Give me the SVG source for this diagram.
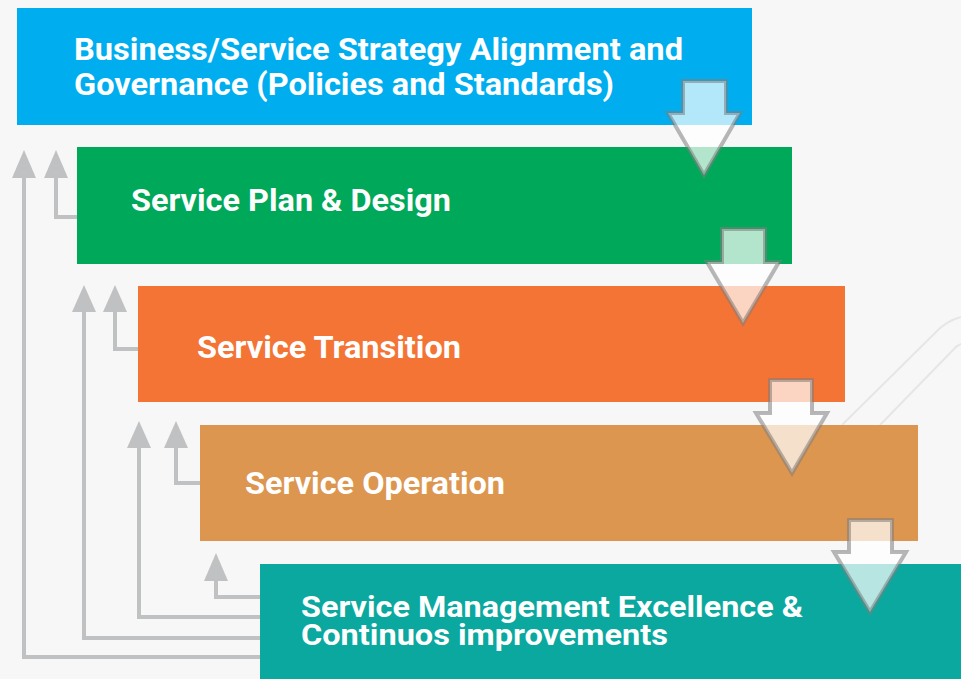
<svg xmlns="http://www.w3.org/2000/svg" width="961" height="679" viewBox="0 0 961 679">
<defs>
<style>
.t{font-family:Roboto,"Liberation Sans",sans-serif;font-weight:700;fill:#ffffff}
.c{fill:none;stroke:#c0c1c3;stroke-width:4}
.h{fill:#c0c1c3}
.d{fill:#ffffff;fill-opacity:0.7;stroke:#7d7d7d;stroke-opacity:0.55;stroke-width:4;stroke-linejoin:miter}
.bg{fill:none;stroke:#e6e6e6;stroke-width:2}
</style>
</defs>
<rect width="961" height="679" fill="#f7f7f7"/>
<g id="background-lines">
<path class="bg" d="M842 425 L935 333 Q946 321 961 317"/>
<path class="bg" d="M880 425 L953 350 Q956 346 961 344"/>
</g>
<g id="connectors">
<path class="c" d="M260 657 H24 V172"/>
<polygon class="h" points="24,150 12,178 36,178"/>
<path class="c" d="M77 217 H56 V172"/>
<polygon class="h" points="56,150 44,178 68,178"/>
<path class="c" d="M260 638 H84 V307"/>
<polygon class="h" points="84,285 72,312 96,312"/>
<path class="c" d="M138 349 H115 V307"/>
<polygon class="h" points="115,285 103,312 127,312"/>
<path class="c" d="M260 617 H139 V443"/>
<polygon class="h" points="139,421 127,448 151,448"/>
<path class="c" d="M200 483 H176 V443"/>
<polygon class="h" points="176,421 164,448 188,448"/>
<path class="c" d="M260 597 H216 V575"/>
<polygon class="h" points="216,553 204,581 228,581"/>
</g>
<g id="node-strategy">
<rect x="17" y="8" width="735" height="117" fill="#00aeef"/>
<text class="t" x="74" y="60" font-size="32" textLength="609" lengthAdjust="spacingAndGlyphs">Business/Service Strategy Alignment and</text>
<text class="t" x="74" y="95" font-size="32" textLength="540" lengthAdjust="spacingAndGlyphs">Governance (Policies and Standards)</text>
</g>
<g id="node-design">
<rect x="77" y="147" width="715" height="117" fill="#00a859"/>
<text class="t" x="131" y="211" font-size="32" textLength="320" lengthAdjust="spacingAndGlyphs">Service Plan &amp; Design</text>
</g>
<g id="node-transition">
<rect x="138" y="286" width="707" height="116" fill="#f37435"/>
<text class="t" x="197" y="358" font-size="32" textLength="264" lengthAdjust="spacingAndGlyphs">Service Transition</text>
</g>
<g id="node-operation">
<rect x="200" y="425" width="718" height="116" fill="#dc9650"/>
<text class="t" x="245" y="494" font-size="32" textLength="260" lengthAdjust="spacingAndGlyphs">Service Operation</text>
</g>
<g id="node-excellence">
<rect x="260" y="564" width="701" height="115" fill="#0aa89e"/>
<text class="t" x="301" y="617" font-size="30" textLength="502" lengthAdjust="spacingAndGlyphs">Service Management Excellence &amp;</text>
<text class="t" x="301" y="645" font-size="30" textLength="367" lengthAdjust="spacingAndGlyphs">Continuos improvements</text>
</g>
<g id="flow-arrows">
<path class="d" d="M683 81 H726 V113 H740 L704 175 L668 113 H683 Z"/>
<path class="d" d="M722 229 H765 V262 H779 L743 323 L707 262 H722 Z"/>
<path class="d" d="M770 380 H812 V413 H827 L792 473 L756 413 H770 Z"/>
<path class="d" d="M849 520 H892 V552 H906 L870 612 L834 552 H849 Z"/>
</g>
</svg>
